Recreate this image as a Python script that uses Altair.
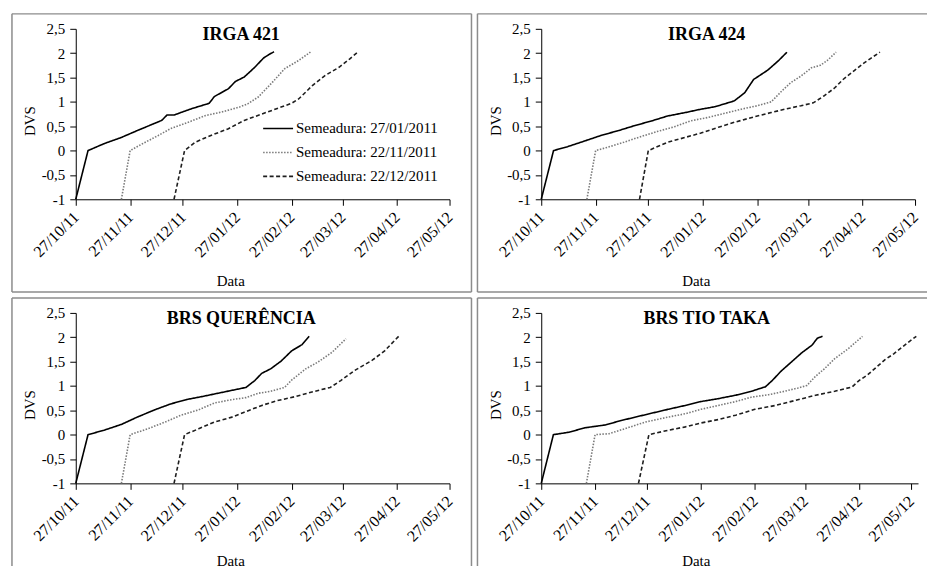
import altair as alt
import pandas as pd

SERIF = "Liberation Serif"
FRAME_COLOR = "#8c8c8c"

# Sowing series shown in every panel
SOWING_LABELS = ["Semeadura: 27/01/2011", "Semeadura: 22/11/2011", "Semeadura: 22/12/2011"]
SOWING_DATES = ["2011-10-27", "2011-11-22", "2011-12-22"]
LINE_COLORS = ["#000000", "#7a7a7a", "#1e1e1e"]
LINE_DASHES = [[1, 0], [1.5, 1.5], [4, 2.5]]

# X axis ticks: the 27th of each month
TICK_DATES = [(2011, 10), (2011, 11), (2011, 12), (2012, 1), (2012, 2), (2012, 3), (2012, 4), (2012, 5)]
Y_TICKS = [-1, -0.5, 0, 0.5, 1, 1.5, 2, 2.5]

# Days after sowing (DAS) and development stage (DVS) per cultivar / sowing date
irga421_s1_das = [0, 7, 16, 26, 35, 49, 52, 56, 66, 76, 79, 87, 91, 96, 102, 107, 110, 113]
irga421_s1_dvs = [-1, 0, 0.14, 0.27, 0.41, 0.62, 0.73, 0.73, 0.86, 0.97, 1.11, 1.27, 1.42, 1.51, 1.71, 1.9, 1.97, 2.03]
irga421_s2_das = [0, 5, 12, 21, 28, 38, 48, 57, 67, 72, 78, 86, 93, 101, 108]
irga421_s2_dvs = [-1, 0, 0.14, 0.31, 0.45, 0.58, 0.72, 0.79, 0.89, 0.96, 1.1, 1.4, 1.68, 1.85, 2.03]
irga421_s3_das = [0, 6, 12, 21, 31, 40, 50, 60, 67, 71, 79, 86, 94, 100, 105]
irga421_s3_dvs = [-1, 0, 0.17, 0.31, 0.45, 0.62, 0.75, 0.88, 0.97, 1.06, 1.34, 1.54, 1.71, 1.88, 2.03]

irga424_s1_das = [0, 7, 15, 25, 34, 44, 53, 63, 72, 82, 91, 99, 110, 116, 121, 129, 135, 140]
irga424_s1_dvs = [-1, 0, 0.08, 0.2, 0.31, 0.41, 0.51, 0.61, 0.71, 0.78, 0.85, 0.9, 1.02, 1.19, 1.46, 1.65, 1.84, 2.02]
irga424_s2_das = [0, 5, 12, 21, 31, 40, 50, 59, 69, 78, 88, 97, 105, 111, 116, 122, 128, 133, 137, 142]
irga424_s2_dvs = [-1, 0, 0.07, 0.17, 0.29, 0.39, 0.49, 0.61, 0.68, 0.76, 0.85, 0.92, 1.0, 1.22, 1.39, 1.53, 1.7, 1.75, 1.85, 2.02]
irga424_s3_das = [0, 5, 16, 26, 35, 45, 54, 65, 75, 84, 92, 99, 105, 111, 116, 122, 128, 132, 137]
irga424_s3_dvs = [-1, 0, 0.17, 0.27, 0.36, 0.48, 0.58, 0.69, 0.78, 0.86, 0.92, 0.98, 1.12, 1.28, 1.46, 1.63, 1.8, 1.9, 2.02]

querencia_s1_das = [0, 7, 16, 26, 35, 45, 54, 63, 73, 81, 89, 97, 102, 106, 111, 117, 123, 129, 133]
querencia_s1_dvs = [-1, 0, 0.09, 0.21, 0.36, 0.51, 0.63, 0.72, 0.79, 0.85, 0.91, 0.97, 1.11, 1.26, 1.35, 1.51, 1.72, 1.85, 2.02]
querencia_s2_das = [0, 5, 15, 25, 34, 44, 53, 63, 71, 78, 85, 93, 97, 105, 112, 120, 128]
querencia_s2_dvs = [-1, 0, 0.12, 0.26, 0.4, 0.51, 0.65, 0.72, 0.76, 0.85, 0.89, 0.97, 1.12, 1.35, 1.49, 1.69, 1.97]
querencia_s3_das = [0, 6, 14, 23, 33, 40, 50, 59, 69, 78, 89, 95, 103, 113, 120, 128]
querencia_s3_dvs = [-1, 0, 0.12, 0.26, 0.36, 0.46, 0.6, 0.7, 0.78, 0.87, 0.97, 1.11, 1.32, 1.53, 1.72, 2.02]

tiotaka_s1_das = [0, 7, 16, 25, 37, 46, 60, 73, 83, 92, 102, 112, 121, 127, 129, 133, 138, 144, 150, 156, 159, 162]
tiotaka_s1_dvs = [-1, 0, 0.05, 0.14, 0.2, 0.29, 0.41, 0.52, 0.6, 0.68, 0.74, 0.81, 0.89, 0.96, 0.98, 1.11, 1.3, 1.49, 1.68, 1.84, 1.98, 2.02]
tiotaka_s2_das = [0, 5, 13, 22, 34, 47, 57, 66, 76, 86, 95, 105, 114, 122, 127, 132, 137, 143, 151, 159]
tiotaka_s2_dvs = [-1, 0, 0.02, 0.12, 0.26, 0.36, 0.43, 0.52, 0.6, 0.68, 0.77, 0.82, 0.89, 0.96, 1.01, 1.2, 1.35, 1.56, 1.77, 2.02]
tiotaka_s3_das = [0, 6, 17, 27, 36, 46, 56, 67, 79, 90, 102, 113, 123, 127, 132, 142, 147, 153, 160]
tiotaka_s3_dvs = [-1, 0, 0.09, 0.16, 0.24, 0.31, 0.4, 0.52, 0.6, 0.7, 0.81, 0.89, 0.98, 1.11, 1.23, 1.54, 1.66, 1.83, 2.02]

PLOT_H = 171
ONE = pd.DataFrame({"k": [0]})


def series_frame(series):
    rows = []
    for label, sow, (das, dvs) in zip(SOWING_LABELS, SOWING_DATES, series):
        start = pd.Timestamp(sow)
        for d, v in zip(das, dvs):
            rows.append({"data": start + pd.Timedelta(days=d), "dvs": v, "semeadura": label})
    return pd.DataFrame(rows)


def edge(x, x2, y, y2):
    return alt.Chart(ONE).mark_rule(color=FRAME_COLOR, strokeWidth=1.5).encode(
        x=alt.value(x), x2=alt.value(x2), y=alt.value(y), y2=alt.value(y2)
    )


def panel(name, series, width, x_end, right_col, bottom_row, legend=False):
    df = series_frame(series)
    bottom = 254 if bottom_row else PLOT_H + 93
    right = 387 if right_col else 397
    edges = [edge(-64, right, -15, -15), edge(-64, -64, -15, bottom)]
    if not right_col:
        edges.append(edge(right, right, -15, bottom))
    if not bottom_row:
        edges.append(edge(-64, right, bottom, bottom))

    if legend:
        leg = alt.Legend(
            orient="none", legendX=187, legendY=84, title=None, padding=0,
            labelFont=SERIF, labelFontSize=15, labelColor="black", labelOffset=2,
            symbolType="stroke", symbolSize=900, symbolStrokeWidth=1.6, rowPadding=-5,
        )
    else:
        leg = None

    x_axis = alt.Axis(
        values=[alt.DateTime(year=yy, month=mm, date=27) for yy, mm in TICK_DATES],
        format="%d/%m/%y", labelAngle=-45, labelAlign="right", labelBaseline="middle",
        labelPadding=9, tickSize=6, labelOverlap=False, labelFlush=False,
        labelFont=SERIF, labelFontSize=16, labelColor="black",
        titleFont=SERIF, titleFontSize=15, titleFontWeight="normal", titleColor="black",
        titleX=155, titleY=77 if bottom_row else 82, titleBaseline="middle", titleAlign="center",
    )
    y_axis = alt.Axis(
        values=Y_TICKS, labelExpr="replace('' + datum.value, '.', ',')",
        tickSize=6, labelPadding=5,
        labelFont=SERIF, labelFontSize=15, labelColor="black",
        titleFont=SERIF, titleFontSize=15, titleFontWeight="normal", titleColor="black",
        titleX=-46, titleY=92, titleAngle=-90, titleBaseline="middle", titleAlign="center",
    )

    lines = alt.Chart(df).mark_line(strokeWidth=1.6, clip=False).encode(
        x=alt.X("data:T", title="Data", axis=x_axis,
                scale=alt.Scale(domain=[alt.DateTime(year=2011, month=10, date=27), x_end], nice=False)),
        y=alt.Y("dvs:Q", title="DVS", axis=y_axis, scale=alt.Scale(domain=[-1, 2.5], nice=False)),
        color=alt.Color("semeadura:N", scale=alt.Scale(domain=SOWING_LABELS, range=LINE_COLORS), legend=leg),
        strokeDash=alt.StrokeDash("semeadura:N", scale=alt.Scale(domain=SOWING_LABELS, range=LINE_DASHES), legend=leg),
    )

    title = alt.Chart(pd.DataFrame({"cultivar": [name]})).mark_text(
        font=SERIF, fontSize=18, fontWeight="bold", color="black", align="center", baseline="middle"
    ).encode(x=alt.value(166), y=alt.value(6), text="cultivar:N")

    return alt.layer(*edges, lines, title).properties(width=width, height=PLOT_H)


END_MAY27 = alt.DateTime(year=2012, month=5, date=27)
END_MAY31 = alt.DateTime(year=2012, month=5, date=31)

tl = panel("IRGA 421", [(irga421_s1_das, irga421_s1_dvs), (irga421_s2_das, irga421_s2_dvs), (irga421_s3_das, irga421_s3_dvs)],
           375, END_MAY27, False, False, legend=True)
tr = panel("IRGA 424", [(irga424_s1_das, irga424_s1_dvs), (irga424_s2_das, irga424_s2_dvs), (irga424_s3_das, irga424_s3_dvs)],
           375, END_MAY27, True, False)
bl = panel("BRS QUERÊNCIA", [(querencia_s1_das, querencia_s1_dvs), (querencia_s2_das, querencia_s2_dvs), (querencia_s3_das, querencia_s3_dvs)],
           375, END_MAY27, False, True)
br = panel("BRS TIO TAKA", [(tiotaka_s1_das, tiotaka_s1_dvs), (tiotaka_s2_das, tiotaka_s2_dvs), (tiotaka_s3_das, tiotaka_s3_dvs)],
           378, END_MAY31, True, True)

chart = (
    alt.concat(tl, tr, bl, br, columns=2, spacing=4)
    .properties(align="each", padding={"left": 11, "top": 12, "right": 0, "bottom": 0}, background="white")
    .resolve_scale(color="independent", strokeDash="independent", x="independent", y="independent")
    .resolve_legend(color="independent", strokeDash="independent")
    .configure_view(stroke=None)
    .configure_axis(
        grid=False, domainColor="#000000", tickColor="#000000", domainWidth=1, tickWidth=1,
        labelFont=SERIF, titleFont=SERIF,
    )
)

chart.save("out.html", embed_options={"renderer": "svg", "actions": False})
